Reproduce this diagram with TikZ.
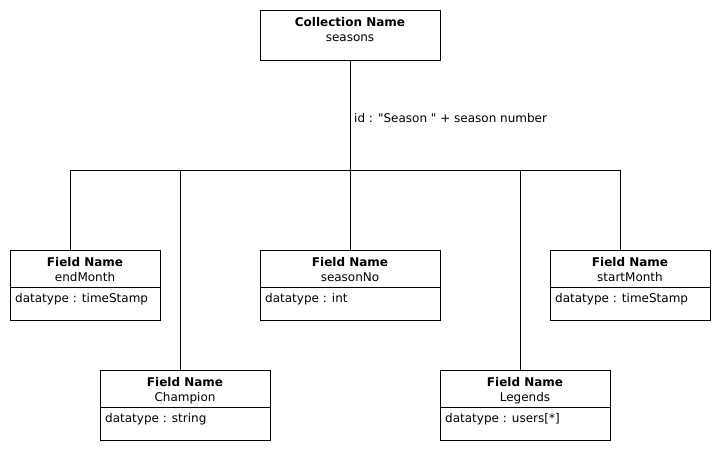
\documentclass[tikz,border=0pt]{standalone}
\usepackage{fontspec}
\setmainfont{DejaVu Sans}[Ligatures=TeXOff]
\usetikzlibrary{positioning}

\tikzset{
  umlbox/.style={draw, line width=1pt, rectangle, inner sep=0pt, outer sep=0pt, anchor=north west},
  boxtext/.style={font=\fontsize{12}{14}\selectfont, inner sep=0pt, anchor=base},
  typetext/.style={font=\fontsize{12}{14}\selectfont, inner sep=0pt, anchor=base west},
  link/.style={line width=1pt},
}

\begin{document}
\begin{tikzpicture}[x=1pt, y=-1pt]
  \useasboundingbox (0,0) rectangle (720,450);

  % collection
  \node[umlbox, minimum width=180pt, minimum height=50pt] (coll) at (260,10) {};
  \node[boxtext] (coll-head) at ([yshift=-16pt]coll.north) {\textbf{Collection Name}};
  \node[boxtext] (coll-name) at ([yshift=-31pt]coll.north) {seasons};

  % fields: name/x/y/width/field/type
  \foreach \nm/\x/\y/\w/\fld/\typ in {endm/10/250/150/endMonth/timeStamp,
                                     seano/260/250/180/seasonNo/int,
                                     startm/550/250/160/startMonth/timeStamp,
                                     champ/100/370/170/Champion/string,
                                     leg/440/370/170/Legends/users[*]} {
    \node[umlbox, minimum width=\w pt, minimum height=70pt] (\nm) at (\x,\y) {};
    \node[boxtext] (\nm-head) at ([yshift=-16pt]\nm.north) {\textbf{Field Name}};
    \node[boxtext] (\nm-name) at ([yshift=-31pt]\nm.north) {\fld};
    \draw[link] ([yshift=-37pt]\nm.north west) -- ([yshift=-37pt]\nm.north east);
    \node[typetext] (\nm-type) at ([xshift=5pt, yshift=-52pt]\nm.north west) {datatype : \typ};
  }

  % tree
  \coordinate (hub) at (350,170);
  \coordinate (j1) at (70,170);
  \coordinate (j2) at (180,170);
  \coordinate (j4) at (520,170);
  \coordinate (j5) at (620,170);

  \draw[link] (coll.south) -- (hub);
  \node[typetext] (idlabel) at (354,122) {id : "Season " + season number};
  \draw[link] (j1) -- (j5);
  \draw[link] (j1) -- (j1 |- endm.north);
  \draw[link] (j2) -- (j2 |- champ.north);
  \draw[link] (hub) -- (seano.north);
  \draw[link] (j4) -- (j4 |- leg.north);
  \draw[link] (j5) -- (j5 |- startm.north);
\end{tikzpicture}
\end{document}
